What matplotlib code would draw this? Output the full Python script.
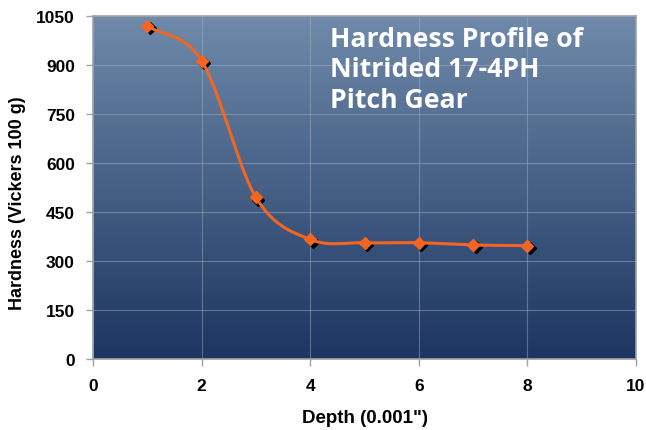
import numpy as np
import matplotlib
matplotlib.use("Agg")
import matplotlib.pyplot as plt
import matplotlib.transforms as mtrans
from matplotlib.colors import LinearSegmentedColormap

depth = [1, 2, 3, 4, 5, 6, 7, 8]
hardness = [1020, 913, 495, 366, 356, 356, 349, 347]
xticks = [0, 2, 4, 6, 8, 10]
yticks = [0, 150, 300, 450, 600, 750, 900, 1050]
title = "Hardness Profile of\nNitrided 17-4PH\nPitch Gear"

def catmull_rom(x, y, n=30, tension=0.5):
    x = np.asarray(x, float); y = np.asarray(y, float)
    px = np.concatenate([[2*x[0]-x[1]], x, [2*x[-1]-x[-2]]])
    py = np.concatenate([[2*y[0]-y[1]], y, [2*y[-1]-y[-2]]])
    xs, ys = [], []
    for i in range(1, len(px)-2):
        p0, p1, p2, p3 = (np.array([px[j], py[j]]) for j in (i-1, i, i+1, i+2))
        m1 = tension*(p2-p0); m2 = tension*(p3-p1)
        t = np.linspace(0, 1, n, endpoint=(i == len(px)-3))
        h00 = 2*t**3-3*t**2+1; h10 = t**3-2*t**2+t
        h01 = -2*t**3+3*t**2; h11 = t**3-t**2
        pts = np.outer(h00, p1)+np.outer(h10, m1)+np.outer(h01, p2)+np.outer(h11, m2)
        xs.append(pts[:, 0]); ys.append(pts[:, 1])
    return np.concatenate(xs), np.concatenate(ys)

fig = plt.figure(figsize=(6.46, 4.31), dpi=100)
ax = fig.add_axes([93/646, 1-360/431, (636-93)/646, (360-17)/431])
ax.set_xlim(0, 10)
ax.set_ylim(0, 1050)

cmap = LinearSegmentedColormap.from_list("bg", ["#1d3561", "#6f8aaa"])
grad = np.linspace(0, 1, 256).reshape(-1, 1)
ax.imshow(grad, aspect="auto", cmap=cmap, origin="lower",
          extent=[0, 10, 0, 1050], zorder=0)

ax.set_xticks(xticks)
ax.set_yticks(yticks)
ax.grid(True, color="#a9b6c8", alpha=0.45, linewidth=0.8, zorder=1)

sx, sy = catmull_rom(depth, hardness)
ax.plot(sx, sy, color="#f26522", linewidth=2.2, zorder=3, solid_capstyle="round")

shadow = mtrans.offset_copy(ax.transData, fig=fig, x=2.5, y=-2.5, units="dots")
ax.plot(depth, hardness, linestyle="none", marker="D", markersize=6.5,
        color="black", transform=shadow, zorder=2.5)
ax.plot(depth, hardness, linestyle="none", marker="D", markersize=6.5,
        color="#f26522", zorder=4)

for s in ax.spines.values():
    s.set_color("#a0a0a0")
    s.set_linewidth(1.2)
ax.tick_params(axis="both", direction="out", length=5, color="#a0a0a0", width=1,
               labelsize=12.5)
ax.tick_params(axis="x", pad=9)
ax.tick_params(axis="y", pad=8)
for lab in ax.get_xticklabels() + ax.get_yticklabels():
    lab.set_fontfamily("Liberation Sans")
    lab.set_fontweight("bold")

ax.set_xlabel("Depth (0.001\")", fontsize=13.5, fontweight="bold",
              fontfamily="Liberation Sans", labelpad=11)
fig.text(18/646, 1-203/431, "Hardness (Vickers 100 g)", rotation=90,
         fontsize=13, fontweight="bold", fontfamily="Liberation Sans",
         ha="center", va="center")

ax.text(330/646, 1-27/431, title, transform=fig.transFigure, color="white",
        fontsize=19.2, fontweight="bold", fontfamily="Open Sans",
        va="top", ha="left", linespacing=1.22)

fig.savefig("out.png", dpi=100)
